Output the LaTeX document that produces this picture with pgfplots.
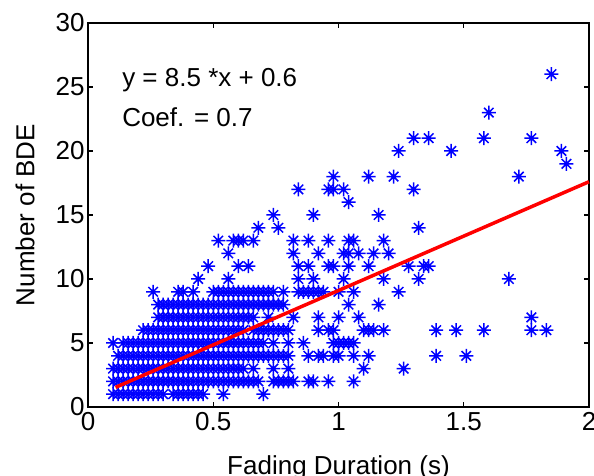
\documentclass[border=0pt]{standalone}
\usepackage{fontspec}
\setmainfont{Liberation Sans}
\usepackage{pgfplots}
\pgfplotsset{compat=1.18}
\pgfdeclareplotmark{mstar}{%
 \pgfpathmoveto{\pgfqpoint{-\pgfplotmarksize}{0pt}}\pgfpathlineto{\pgfqpoint{\pgfplotmarksize}{0pt}}%
 \pgfpathmoveto{\pgfqpoint{0pt}{-\pgfplotmarksize}}\pgfpathlineto{\pgfqpoint{0pt}{\pgfplotmarksize}}%
 \pgfpathmoveto{\pgfqpoint{-.68\pgfplotmarksize}{-.68\pgfplotmarksize}}\pgfpathlineto{\pgfqpoint{.68\pgfplotmarksize}{.68\pgfplotmarksize}}%
 \pgfpathmoveto{\pgfqpoint{-.68\pgfplotmarksize}{.68\pgfplotmarksize}}\pgfpathlineto{\pgfqpoint{.68\pgfplotmarksize}{-.68\pgfplotmarksize}}%
 \pgfusepathqstroke}
\begin{document}
\begin{tikzpicture}[font=\fontsize{26}{31}\selectfont]
\begin{axis}[
  scale only axis, width=501pt, height=384pt,
  xmin=0, xmax=2, ymin=0, ymax=30,
  xtick={0,0.5,1,1.5,2}, ytick={0,5,10,15,20,25,30},
  /pgf/number format/assume math mode=true,
  axis line style={line width=1.5pt},
  every tick/.style={black, line width=1.2pt},
  major tick length=5pt,
  tick align=inside,
  xticklabel style={yshift=-2.3pt},
  xlabel={Fading Duration (s)},
  ylabel={Number of BDE},
  xlabel style={at={(axis description cs:0.5,-0.1745)}, anchor=base},
  ylabel style={at={(axis description cs:-0.1072,0.5)}, anchor=base, rotate=0},
  clip=false,
  clip marker paths=true,
  set layers=standard,
]
\addplot[only marks, mark=mstar, mark size=7pt, color={rgb,255:red,0;green,0;blue,255}, mark options={line width=1.5pt}] coordinates {
(0.10,1)(0.12,1)(0.14,1)(0.16,1)(0.18,1)(0.20,1)(0.22,1)(0.24,1)(0.26,1)(0.28,1)(0.30,1)(0.34,1)(0.36,1)(0.38,1)(0.40,1)(0.42,1)(0.44,1)(0.46,1)(0.54,1)(0.70,1)
(0.10,2)(0.12,2)(0.14,2)(0.16,2)(0.18,2)(0.20,2)(0.22,2)(0.24,2)(0.26,2)(0.28,2)(0.30,2)(0.32,2)(0.34,2)(0.36,2)(0.38,2)(0.40,2)(0.42,2)(0.44,2)(0.46,2)(0.48,2)(0.50,2)(0.52,2)(0.54,2)(0.56,2)(0.58,2)(0.60,2)(0.62,2)(0.64,2)(0.66,2)(0.68,2)(0.74,2)(0.76,2)(0.78,2)(0.80,2)(0.82,2)(0.88,2)(0.90,2)(0.96,2)(1.06,2)
(0.10,3)(0.12,3)(0.14,3)(0.16,3)(0.18,3)(0.20,3)(0.22,3)(0.24,3)(0.26,3)(0.28,3)(0.30,3)(0.32,3)(0.34,3)(0.36,3)(0.38,3)(0.40,3)(0.42,3)(0.44,3)(0.46,3)(0.48,3)(0.50,3)(0.52,3)(0.54,3)(0.56,3)(0.58,3)(0.60,3)(0.62,3)(0.66,3)(0.74,3)(0.80,3)(1.10,3)(1.26,3)
(0.12,4)(0.14,4)(0.16,4)(0.18,4)(0.20,4)(0.22,4)(0.24,4)(0.26,4)(0.28,4)(0.30,4)(0.32,4)(0.34,4)(0.36,4)(0.38,4)(0.40,4)(0.42,4)(0.44,4)(0.46,4)(0.48,4)(0.50,4)(0.52,4)(0.54,4)(0.56,4)(0.58,4)(0.60,4)(0.62,4)(0.64,4)(0.66,4)(0.68,4)(0.70,4)(0.72,4)(0.74,4)(0.76,4)(0.78,4)(0.80,4)(0.88,4)(0.92,4)(0.94,4)(0.98,4)(1.00,4)(1.06,4)(1.12,4)(1.39,4)(1.51,4)
(0.10,5)(0.14,5)(0.16,5)(0.18,5)(0.20,5)(0.22,5)(0.24,5)(0.26,5)(0.28,5)(0.30,5)(0.32,5)(0.34,5)(0.36,5)(0.38,5)(0.40,5)(0.42,5)(0.44,5)(0.46,5)(0.48,5)(0.50,5)(0.52,5)(0.54,5)(0.56,5)(0.58,5)(0.60,5)(0.62,5)(0.64,5)(0.66,5)(0.68,5)(0.70,5)(0.74,5)(0.80,5)(0.86,5)(0.98,5)(1.00,5)(1.02,5)(1.04,5)(1.06,5)
(0.22,6)(0.24,6)(0.26,6)(0.28,6)(0.30,6)(0.32,6)(0.34,6)(0.36,6)(0.38,6)(0.40,6)(0.42,6)(0.44,6)(0.46,6)(0.48,6)(0.50,6)(0.52,6)(0.54,6)(0.56,6)(0.58,6)(0.60,6)(0.62,6)(0.66,6)(0.68,6)(0.70,6)(0.72,6)(0.74,6)(0.76,6)(0.78,6)(0.80,6)(0.92,6)(0.96,6)(0.98,6)(1.10,6)(1.12,6)(1.14,6)(1.18,6)(1.39,6)(1.47,6)(1.58,6)(1.77,6)(1.83,6)
(0.28,7)(0.30,7)(0.32,7)(0.34,7)(0.36,7)(0.38,7)(0.40,7)(0.42,7)(0.44,7)(0.46,7)(0.48,7)(0.50,7)(0.52,7)(0.54,7)(0.56,7)(0.58,7)(0.60,7)(0.62,7)(0.64,7)(0.66,7)(0.72,7)(0.82,7)(0.92,7)(1.00,7)(1.08,7)(1.77,7)
(0.28,8)(0.30,8)(0.32,8)(0.34,8)(0.36,8)(0.38,8)(0.40,8)(0.42,8)(0.44,8)(0.46,8)(0.48,8)(0.50,8)(0.52,8)(0.54,8)(0.56,8)(0.58,8)(0.60,8)(0.62,8)(0.64,8)(0.66,8)(0.68,8)(0.70,8)(0.72,8)(0.74,8)(0.76,8)(0.78,8)(1.04,8)(1.16,8)
(0.26,9)(0.36,9)(0.38,9)(0.42,9)(0.50,9)(0.52,9)(0.54,9)(0.56,9)(0.58,9)(0.60,9)(0.62,9)(0.64,9)(0.66,9)(0.68,9)(0.70,9)(0.72,9)(0.74,9)(0.78,9)(0.84,9)(0.86,9)(0.88,9)(0.90,9)(0.92,9)(0.94,9)(1.00,9)(1.06,9)(1.24,9)
(0.44,10)(0.56,10)(0.84,10)(0.90,10)(1.02,10)(1.18,10)(1.32,10)(1.68,10)
(0.48,11)(0.60,11)(0.64,11)(0.84,11)(0.88,11)(0.96,11)(0.98,11)(1.04,11)(1.12,11)(1.28,11)(1.34,11)(1.36,11)
(0.56,12)(0.82,12)(0.92,12)(1.02,12)(1.04,12)(1.08,12)(1.14,12)(1.20,12)
(0.52,13)(0.58,13)(0.60,13)(0.62,13)(0.66,13)(0.82,13)(0.88,13)(0.96,13)(1.04,13)(1.06,13)(1.18,13)
(0.68,14)(0.76,14)(1.32,14)
(0.74,15)(0.90,15)(1.16,15)
(1.04,16)
(0.84,17)(0.96,17)(0.98,17)(1.02,17)(1.30,17)
(0.98,18)(1.12,18)(1.22,18)(1.72,18)
(1.91,19)
(1.24,20)(1.45,20)(1.89,20)
(1.30,21)(1.36,21)(1.58,21)(1.77,21)
(1.60,23)
(1.85,26)
};
\addplot[red, line width=3.5pt, on layer=axis foreground] coordinates {(0.11,1.535)(2,17.6)};
\node[anchor=base west, inner sep=0pt] at (axis cs:0.136,25) {y = 8.5 *x + 0.6};
\node[anchor=base west, inner sep=0pt] at (axis cs:0.136,21.9) {Coef. = 0.7};
\end{axis}
\pgfresetboundingbox
\path[use as bounding box] (current axis.south west) ++(-88pt,-69pt) rectangle ++(594pt,476pt);
\end{tikzpicture}
\end{document}
